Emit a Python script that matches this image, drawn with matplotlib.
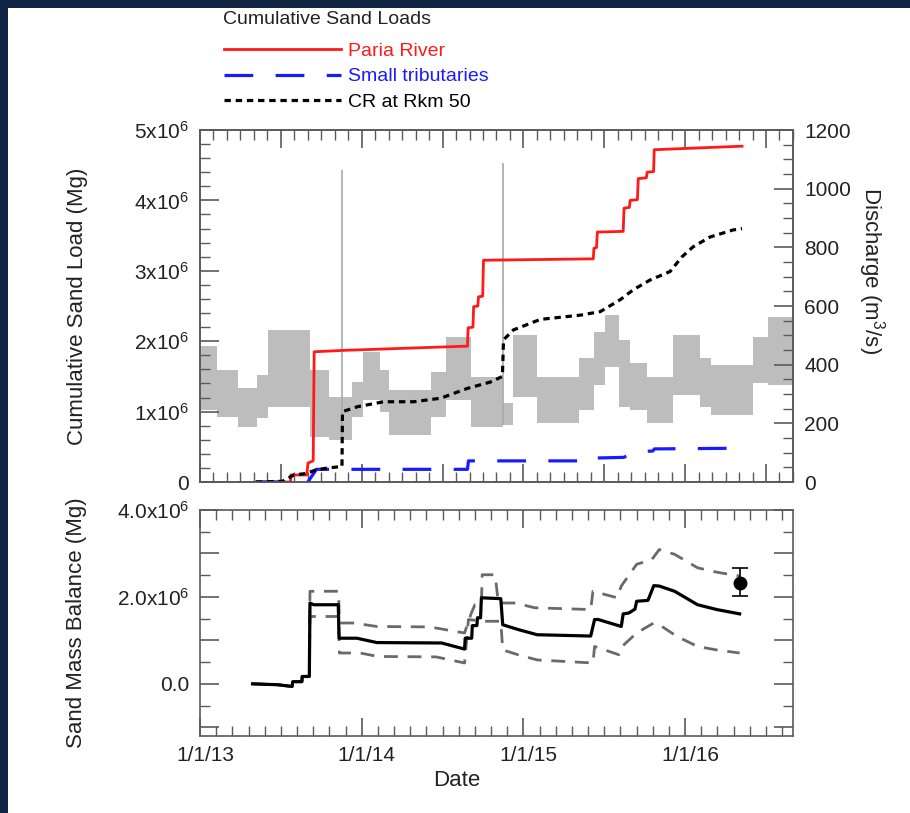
import numpy as np
import matplotlib
matplotlib.use("Agg")
import matplotlib.pyplot as plt
import matplotlib.transforms as mtransforms
from matplotlib.ticker import FixedLocator, MultipleLocator, FuncFormatter
from matplotlib.patches import Rectangle

plt.rcParams['font.family'] = ['Liberation Sans', 'DejaVu Sans']
plt.rcParams['mathtext.fontset'] = 'custom'
plt.rcParams['mathtext.rm'] = 'Liberation Sans'
plt.rcParams['mathtext.it'] = 'Liberation Sans:italic'
plt.rcParams['mathtext.bf'] = 'Liberation Sans:bold'

# ---------------- data (time in decimal years, loads in Mg) ----------------
# cumulative sand loads
paria_t = [2013.346, 2013.560, 2013.562, 2013.660, 2013.668, 2013.700, 2013.706, 2013.890,
           2014.654, 2014.658, 2014.688, 2014.692, 2014.718, 2014.722, 2014.748, 2014.753,
           2015.432, 2015.436, 2015.452, 2015.457, 2015.617, 2015.622, 2015.655, 2015.660,
           2015.705, 2015.710, 2015.760, 2015.765, 2015.805, 2015.809, 2016.352]
paria_v = [0.00, 0.00, 0.10, 0.10, 0.27, 0.30, 1.85, 1.87,
           1.93, 2.19, 2.20, 2.49, 2.50, 2.63, 2.64, 3.15,
           3.17, 3.32, 3.33, 3.55, 3.56, 3.89, 3.90, 4.00,
           4.01, 4.31, 4.32, 4.40, 4.41, 4.72, 4.77]

trib_t = [2013.346, 2013.667, 2013.720, 2014.654, 2014.660, 2015.430, 2015.440,
          2015.620, 2015.700, 2015.800, 2015.810, 2016.352]
trib_v = [0.00, 0.00, 0.18, 0.18, 0.30, 0.30, 0.34, 0.35, 0.43, 0.44, 0.47, 0.48]

cr_t = [2013.346, 2013.510, 2013.580, 2013.654, 2013.716, 2013.790, 2013.878, 2013.881,
        2013.975, 2014.136, 2014.321, 2014.488, 2014.654, 2014.796, 2014.870, 2014.877,
        2014.938, 2015.105, 2015.352, 2015.475, 2015.599, 2015.679, 2015.784, 2015.907,
        2015.981, 2016.049, 2016.154, 2016.296, 2016.352]
cr_v = [0.00, 0.01, 0.10, 0.12, 0.17, 0.20, 0.22, 1.00,
        1.07, 1.14, 1.14, 1.19, 1.33, 1.42, 1.50, 2.02,
        2.16, 2.31, 2.37, 2.42, 2.59, 2.73, 2.87, 2.99,
        3.20, 3.34, 3.48, 3.58, 3.60]

# discharge at Lees Ferry: daily range per release period (m3/s)
q_start = [2013.000, 2013.105, 2013.234, 2013.351, 2013.422, 2013.679, 2013.796, 2013.937,
           2014.007, 2014.113, 2014.171, 2014.429, 2014.523, 2014.675, 2014.874, 2014.933,
           2015.085, 2015.342, 2015.436, 2015.506, 2015.588, 2015.659, 2015.764, 2015.928,
           2016.092, 2016.162, 2016.420, 2016.514, 2016.667]
q_low = [245, 223, 189, 218, 257, 155, 143, 223, 280, 240, 160, 223, 280, 189, 194, 291,
         200, 245, 331, 393, 257, 245, 200, 297, 257, 228, 336, 331, 331]
q_high = [462, 382, 320, 365, 518, 382, 291, 342, 444, 382, 314, 376, 495, 359, 269, 501,
          359, 422, 512, 569, 484, 405, 359, 501, 422, 399, 495, 564, 564]
hfe_t = [2013.877, 2014.874]
hfe_peak = [1064, 1088]

# sand mass balance (Mg x 1e6)
mb_t = [2013.325, 2013.478, 2013.570, 2013.573, 2013.630, 2013.632, 2013.676, 2013.680,
        2013.703, 2013.855, 2013.860, 2013.970, 2014.093, 2014.494, 2014.636, 2014.640,
        2014.680, 2014.684, 2014.712, 2014.716, 2014.735, 2014.740, 2014.860, 2014.872,
        2014.967, 2015.085, 2015.416, 2015.440, 2015.463, 2015.605, 2015.617, 2015.652,
        2015.690, 2015.700, 2015.770, 2015.806, 2015.840, 2015.935, 2016.077, 2016.195,
        2016.337]
mb_v = [0.00, -0.02, -0.06, 0.05, 0.05, 0.17, 0.17, 1.86,
        1.82, 1.82, 1.05, 1.05, 0.95, 0.94, 0.80, 1.05,
        1.05, 1.34, 1.34, 1.52, 1.52, 1.98, 1.96, 1.36,
        1.25, 1.13, 1.10, 1.48, 1.48, 1.32, 1.61, 1.63,
        1.72, 1.90, 1.92, 2.26, 2.25, 2.13, 1.82, 1.71,
        1.61]

mb_hi_t = [2013.325, 2013.478, 2013.570, 2013.573, 2013.630, 2013.632, 2013.676, 2013.680,
           2013.857, 2013.862, 2013.950, 2014.093, 2014.420, 2014.636, 2014.676, 2014.700,
           2014.740, 2014.745, 2014.825, 2014.845, 2014.950, 2015.070, 2015.416, 2015.430,
           2015.580, 2015.605, 2015.700, 2015.794, 2015.840, 2015.935, 2016.077, 2016.195,
           2016.337]
mb_hi_v = [0.00, -0.02, -0.06, 0.05, 0.05, 0.17, 0.17, 2.13,
           2.13, 1.40, 1.40, 1.32, 1.31, 1.17, 1.61, 1.82,
           1.82, 2.51, 2.51, 1.86, 1.86, 1.75, 1.71, 2.13,
           1.98, 2.25, 2.75, 2.86, 3.09, 2.98, 2.67, 2.57,
           2.48]

mb_lo_t = [2013.325, 2013.478, 2013.570, 2013.573, 2013.630, 2013.632, 2013.676, 2013.680,
           2013.857, 2013.862, 2013.990, 2014.100, 2014.460, 2014.636, 2014.660, 2014.754,
           2014.860, 2014.872, 2014.967, 2015.085, 2015.430, 2015.440, 2015.590, 2015.610,
           2015.700, 2015.806, 2015.840, 2015.950, 2016.077, 2016.195, 2016.337]
mb_lo_v = [0.00, -0.02, -0.06, 0.05, 0.05, 0.17, 0.17, 1.55,
           1.55, 0.71, 0.71, 0.63, 0.62, 0.48, 1.48, 1.44,
           1.44, 0.78, 0.67, 0.55, 0.48, 0.86, 0.67, 0.86,
           1.17, 1.40, 1.36, 1.09, 0.86, 0.78, 0.71]

# independent measurement with error bar
meas_t = [2016.337]
meas_v = [2.32]
meas_err_lo = [0.31]
meas_err_hi = [0.35]

year_labels = ['1/1/13', '1/1/14', '1/1/15', '1/1/16']
year_ticks = [2013, 2014, 2015, 2016]

# ---------------- figure ----------------
W, H = 910, 813
fig = plt.figure(figsize=(W / 100, H / 100), dpi=100)
fig.patch.set_facecolor('#0f2442')
fig.patches.append(Rectangle((8 / W, 0), 1, 1 - 8 / H, transform=fig.transFigure,
                             facecolor='white', edgecolor='none', zorder=-10))

spine_c = '#5a5a5a'
txt_c = '#222222'
fs_tick = 15
fs_lab = 16


def fx(px):
    return px / W


def fy(py):
    return 1 - py / H


ax1 = fig.add_axes([fx(200), fy(482), fx(793) - fx(200), fy(130) - fy(482)])
ax2 = ax1.twinx()
ax3 = fig.add_axes([fx(200), fy(736), fx(793) - fx(200), fy(510) - fy(736)])

xlim = (2013.0, 2016.667)

# discharge (behind)
ax2.fill_between(q_start, q_low, q_high, step='post', color='#bdbdbd', lw=0)
ax2.vlines(hfe_t, [q_low[6], q_low[14]], hfe_peak, color='#a8a8a8', lw=1.2)
ax2.set_ylim(0, 1200)
ax1.set_zorder(ax2.get_zorder() + 1)
ax1.patch.set_visible(False)

e6 = 1e6
ax1.plot(paria_t, np.array(paria_v) * e6, color='#ff1a1a', lw=2.0, label='Paria River')
ax1.plot(trib_t, np.array(trib_v) * e6, color='#1a1aff', lw=2.3, ls=(0, (9, 7)),
         label='Small tributaries')
ax1.plot(cr_t, np.array(cr_v) * e6, color='black', lw=2.3, ls=(0, (2.0, 1.5)),
         label='CR at Rkm 50')
ax1.set_ylim(0, 5e6)
ax1.set_xlim(*xlim)

# mass balance
ax3.plot(mb_hi_t, np.array(mb_hi_v) * e6, color='#6a6a6a', lw=2.0, ls=(0, (5, 3.5)))
ax3.plot(mb_lo_t, np.array(mb_lo_v) * e6, color='#6a6a6a', lw=2.0, ls=(0, (5, 3.5)))
ax3.plot(mb_t, np.array(mb_v) * e6, color='black', lw=2.3)
ax3.errorbar(meas_t, np.array(meas_v) * e6,
             yerr=[np.array(meas_err_lo) * e6, np.array(meas_err_hi) * e6],
             fmt='o', color='black', ms=9, capsize=6, elinewidth=1.2, capthick=1.2)
ax3.set_xlim(*xlim)
ax3.set_ylim(-1.2e6, 4.0e6)

# ---- axes styling ----
for a in (ax1, ax2, ax3):
    for s in a.spines.values():
        s.set_color(spine_c)
        s.set_linewidth(1.2)

months = np.arange(2013.0, 2016.7, 1 / 12)

# upper panel x ticks (no labels)
ax1.xaxis.set_major_locator(FixedLocator(np.arange(2013.0, 2016.7, 0.5)))
ax1.xaxis.set_minor_locator(FixedLocator(months))
ax1.tick_params(axis='x', which='both', direction='in', top=True, bottom=True,
                labelbottom=False, color=spine_c)
ax1.tick_params(axis='x', which='major', length=13, width=1.2)
ax1.tick_params(axis='x', which='minor', length=7, width=1.0)

ax1.yaxis.set_major_locator(MultipleLocator(1e6))
ax1.yaxis.set_minor_locator(MultipleLocator(0.2e6))
ax1.yaxis.set_major_formatter(FuncFormatter(
    lambda v, p: '0' if abs(v) < 1 else '%dx10$^6$' % round(v / 1e6)))
ax1.tick_params(axis='y', which='both', direction='in', left=True, right=False,
                color=spine_c, labelsize=fs_tick, labelcolor=txt_c, pad=8)
ax1.tick_params(axis='y', which='major', length=14, width=1.2)
ax1.tick_params(axis='y', which='minor', length=7, width=1.0)
ax1.set_ylabel('Cumulative Sand Load (Mg)', fontsize=fs_lab, color=txt_c)
ax1.yaxis.set_label_coords((88 - 200) / 593, 0.5)

ax2.yaxis.set_major_locator(MultipleLocator(200))
ax2.yaxis.set_minor_locator(MultipleLocator(50))
ax2.tick_params(axis='y', which='both', direction='in', color=spine_c,
                labelsize=fs_tick, labelcolor=txt_c, pad=8)
ax2.tick_params(axis='y', which='major', length=14, width=1.2)
ax2.tick_params(axis='y', which='minor', length=7, width=1.0)
ax2.set_ylabel('Discharge (m$^3$/s)', fontsize=fs_lab, color=txt_c, rotation=270,
               va='center')
ax2.yaxis.set_label_coords((871 - 200) / 593, 0.60)

# lower panel
ax3.xaxis.set_major_locator(FixedLocator(year_ticks))
ax3.xaxis.set_major_formatter(FuncFormatter(
    lambda v, p: year_labels[year_ticks.index(int(round(v)))] if int(round(v)) in year_ticks else ''))
ax3.xaxis.set_minor_locator(FixedLocator(np.arange(2013.0, 2016.7, 0.1)))
ax3.tick_params(axis='x', which='both', direction='in', top=True, bottom=True,
                color=spine_c, labelsize=fs_tick, labelcolor=txt_c, pad=7)
ax3.tick_params(axis='x', which='major', length=13, width=1.2)
ax3.tick_params(axis='x', which='minor', length=7, width=1.0)
shift = mtransforms.ScaledTranslation(5 / 100, 0, fig.dpi_scale_trans)
for lab in ax3.get_xticklabels():
    lab.set_transform(lab.get_transform() + shift)

ax3.yaxis.set_major_locator(FixedLocator([-1e6, 0, 1e6, 2e6, 3e6, 4e6]))
ax3.yaxis.set_minor_locator(FixedLocator(np.arange(-1.0e6, 4.01e6, 0.5e6)))
ax3.yaxis.set_major_formatter(FuncFormatter(
    lambda v, p: '0.0' if abs(v) < 1 else ('%.1fx10$^6$' % (v / 1e6) if round(v / 1e6) % 2 == 0 and v > 0 else '')))
ax3.tick_params(axis='y', which='both', direction='in', left=True, right=True,
                color=spine_c, labelsize=fs_tick, labelcolor=txt_c, pad=8)
ax3.tick_params(axis='y', which='major', length=14, width=1.2)
ax3.tick_params(axis='y', which='minor', length=7, width=1.0)
ax3.set_ylabel('Sand Mass Balance (Mg)', fontsize=fs_lab, color=txt_c)
ax3.yaxis.set_label_coords((87 - 200) / 593, 0.5)
ax3.set_xlabel('Date', fontsize=fs_lab, color=txt_c)
ax3.xaxis.set_label_coords((457 - 200) / 593, -0.15)

# legend above the top panel
fig.text(fx(223), fy(20), 'Cumulative Sand Loads', fontsize=14, color=txt_c,
         ha='left', va='center')
leg = fig.legend(handles=ax1.get_lines(), loc='upper left',
                 bbox_to_anchor=(fx(222), fy(40)), frameon=False,
                 labelcolor='linecolor', handlelength=6.0, handletextpad=0.4,
                 fontsize=14, labelspacing=0.42,
                 borderaxespad=0, borderpad=0.1)

fig.savefig('out.png', dpi=100, facecolor=fig.get_facecolor())
